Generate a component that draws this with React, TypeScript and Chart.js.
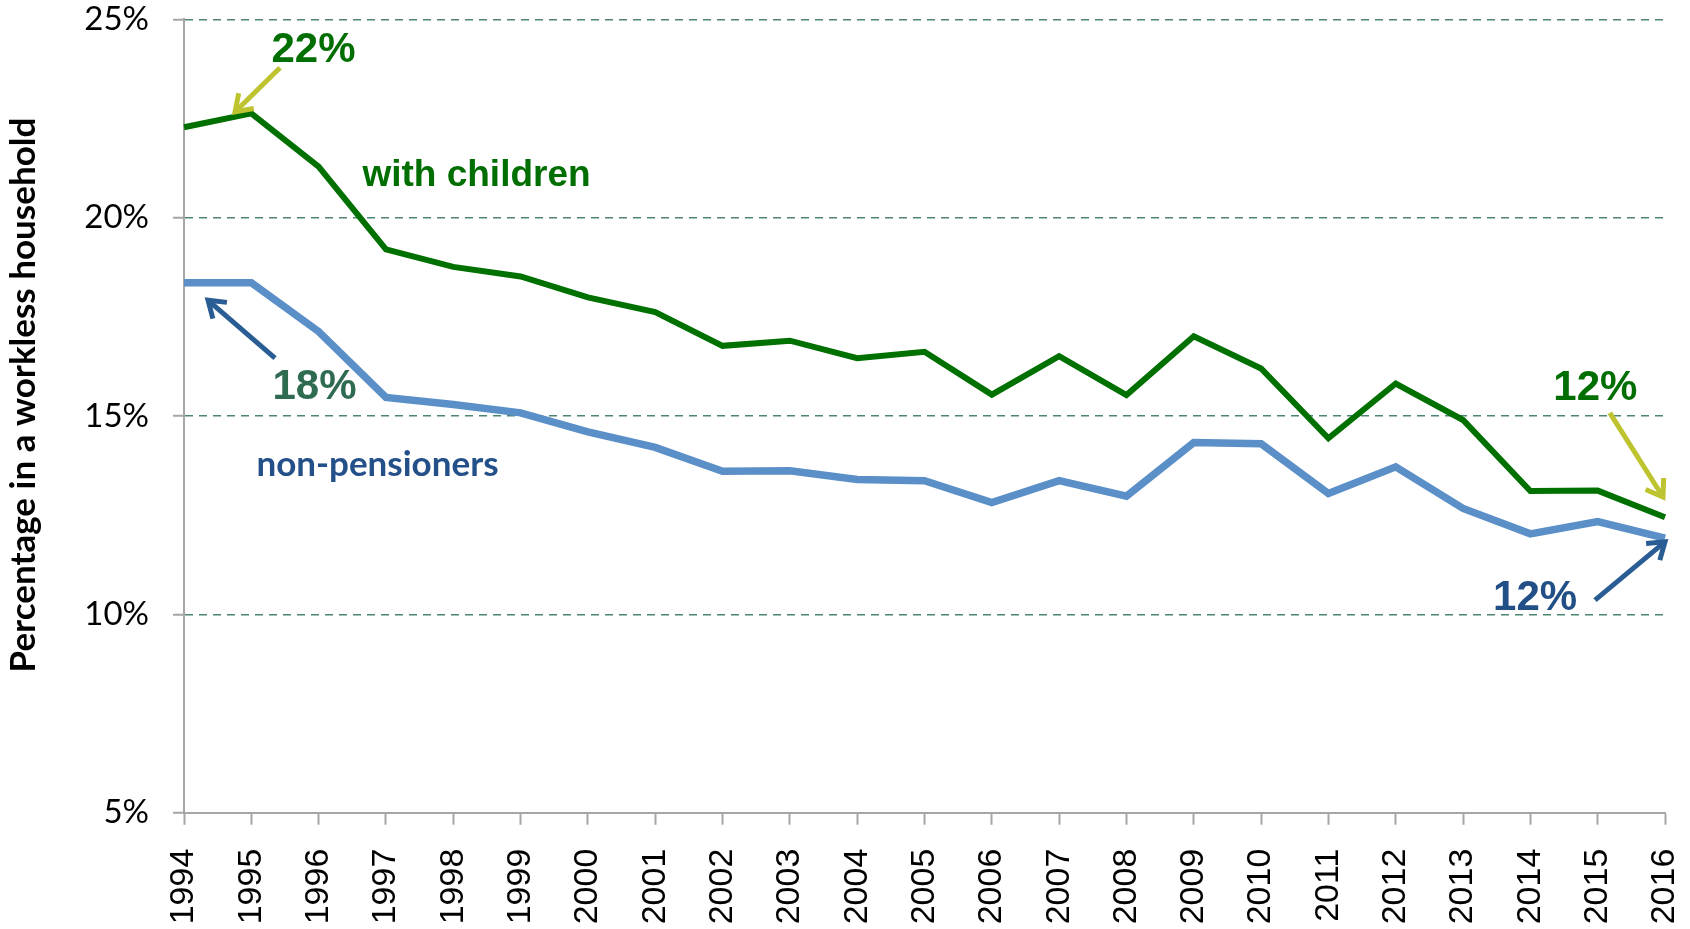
import React, { useEffect, useRef } from "react";
import { Chart, registerables } from "chart.js";

Chart.register(...registerables);

const years = ["1994","1995","1996","1997","1998","1999","2000","2001","2002","2003","2004","2005","2006","2007","2008","2009","2010","2011","2012","2013","2014","2015","2016"];
const withChildren = [22.28, 22.63, 21.29, 19.2, 18.76, 18.52, 17.99, 17.62, 16.77, 16.9, 16.46, 16.62, 15.54, 16.51, 15.53, 17.01, 16.2, 14.44, 15.82, 14.9, 13.11, 13.12, 12.45];
const nonPensioners = [18.36, 18.36, 17.13, 15.47, 15.29, 15.08, 14.6, 14.21, 13.61, 13.62, 13.4, 13.37, 12.82, 13.37, 12.98, 14.33, 14.3, 13.05, 13.72, 12.67, 12.03, 12.34, 11.92];
const yTicks = [5, 10, 15, 20, 25];
const yTitle = "Percentage in a workless household";

// annotation texts anchored in data space (category index, value)
const labels = [
  { text: "22%", x: 1.924, y: 23.93, color: "#006e00", font: "bold 42px 'Liberation Sans'", align: "center" },
  { text: "with children", x: 4.345, y: 20.8, color: "#006e00", font: "bold 37px 'Liberation Sans'", align: "center" },
  { text: "18%", x: 1.939, y: 15.43, color: "#2f6b50", font: "bold 42px 'Liberation Sans'", align: "center" },
  { text: "non-pensioners", x: 2.874, y: 13.5, color: "#24508a", font: "bold 35px Lato", align: "center" },
  { text: "12%", x: 20.966, y: 15.4, color: "#006e00", font: "bold 42px 'Liberation Sans'", align: "center" },
  { text: "12%", x: 20.07, y: 10.11, color: "#234f87", font: "bold 42px 'Liberation Sans'", align: "center" },
];
const arrows = [
  { x1: 1.426, y1: 23.78, x2: 0.758, y2: 22.67, color: "#bec42f" },
  { x1: 1.352, y1: 16.46, x2: 0.357, y2: 17.92, color: "#2a5d93" },
  { x1: 21.18, y1: 15.08, x2: 21.97, y2: 12.96, color: "#bec42f" },
  { x1: 20.96, y1: 10.36, x2: 22.0, y2: 11.83, color: "#2a5d93" },
];

const annotationPlugin = {
  id: "annotations",
  afterDatasetsDraw(chart: any) {
    const { ctx, scales, chartArea } = chart;
    const xs = scales.x;
    const ys = scales.y;
    ctx.save();
    for (const a of arrows) {
      const x1 = xs.getPixelForValue(a.x1);
      const y1 = ys.getPixelForValue(a.y1);
      const x2 = xs.getPixelForValue(a.x2);
      const y2 = ys.getPixelForValue(a.y2);
      const ang = Math.atan2(y2 - y1, x2 - x1);
      ctx.strokeStyle = a.color;
      ctx.lineWidth = 5;
      ctx.lineCap = "butt";
      ctx.lineJoin = "miter";
      ctx.beginPath();
      ctx.moveTo(x1, y1);
      ctx.lineTo(x2 - 2 * Math.cos(ang), y2 - 2 * Math.sin(ang));
      ctx.stroke();
      const len = 19;
      const spread = 0.6;
      ctx.beginPath();
      ctx.moveTo(x2 - len * Math.cos(ang - spread), y2 - len * Math.sin(ang - spread));
      ctx.lineTo(x2, y2);
      ctx.lineTo(x2 - len * Math.cos(ang + spread), y2 - len * Math.sin(ang + spread));
      ctx.stroke();
    }
    for (const l of labels) {
      ctx.font = l.font;
      ctx.fillStyle = l.color;
      ctx.textAlign = l.align;
      ctx.textBaseline = "alphabetic";
      ctx.fillText(l.text, xs.getPixelForValue(l.x), ys.getPixelForValue(l.y));
    }
    // y-axis title
    ctx.translate(24, (chartArea.top + chartArea.bottom) / 2 - 21);
    ctx.rotate(-Math.PI / 2);
    ctx.font = "bold 35px Lato";
    ctx.fillStyle = "#000";
    ctx.textAlign = "center";
    ctx.textBaseline = "middle";
    ctx.fillText(yTitle, 0, 0);
    ctx.restore();
  },
};

export default function App() {
  const ref = useRef<HTMLCanvasElement>(null);
  useEffect(() => {
    document.body.style.margin = "0";
    const chart = new Chart(ref.current as HTMLCanvasElement, {
      type: "line",
      data: {
        labels: years,
        datasets: [
          {
            label: "with children",
            data: withChildren,
            borderColor: "#007000",
            borderWidth: 6,
            pointRadius: 0,
            tension: 0,
            borderJoinStyle: "miter",
            fill: false,
          },
          {
            label: "non-pensioners",
            data: nonPensioners,
            borderColor: "#5b8fc7",
            borderWidth: 7.5,
            pointRadius: 0,
            tension: 0,
            borderJoinStyle: "miter",
            fill: false,
          },
        ],
      },
      options: {
        animation: false,
        responsive: false,
        devicePixelRatio: 1,
        layout: { padding: { left: 0, top: 19.4, right: 25, bottom: 0 } },
        plugins: { legend: { display: false }, tooltip: { enabled: false } },
        scales: {
          x: {
            type: "category",
            offset: false,
            afterFit: (s: any) => { s.height = 116.3; s.paddingLeft = 0; s.paddingRight = 0; },
            grid: {
              drawOnChartArea: false,
              drawTicks: true,
              tickLength: 12,
              tickColor: "#a6a6a6",
              tickWidth: 2,
            },
            border: { color: "#a6a6a6", width: 2 },
            ticks: {
              autoSkip: false,
              maxRotation: 90,
              minRotation: 90,
              padding: 24,
              color: "#000",
              font: { family: "'Liberation Sans'", size: 34, lineHeight: 1 },
            },
          },
          y: {
            min: 5,
            max: 25,
            afterFit: (s: any) => { s.width = 184; s.paddingTop = 0; s.paddingBottom = 0; },
            afterBuildTicks: (s: any) => { s.ticks = yTicks.map((v) => ({ value: v })); },
            grid: {
              color: (c: any) => (c.tick && c.tick.value === 5 ? "rgba(0,0,0,0)" : "#4d8574"),
              lineWidth: 1.5,
              drawTicks: true,
              tickLength: 11,
              tickColor: "#a6a6a6",
              tickWidth: 2,
              tickBorderDash: [],
            },
            border: { color: "#a6a6a6", width: 2, dash: [8, 6] },
            ticks: {
              padding: 24,
              color: "#000",
              font: { family: "Lato", size: 33, lineHeight: 1 },
              callback: (v: any) => v + "%",
            },
          },
        },
      },
      plugins: [annotationPlugin],
    } as any);
    return () => chart.destroy();
  }, []);
  return (
    <div style={{ position: "fixed", left: 0, top: 0, width: 1690, height: 929 }}>
      <canvas ref={ref} width={1690} height={929} />
    </div>
  );
}
